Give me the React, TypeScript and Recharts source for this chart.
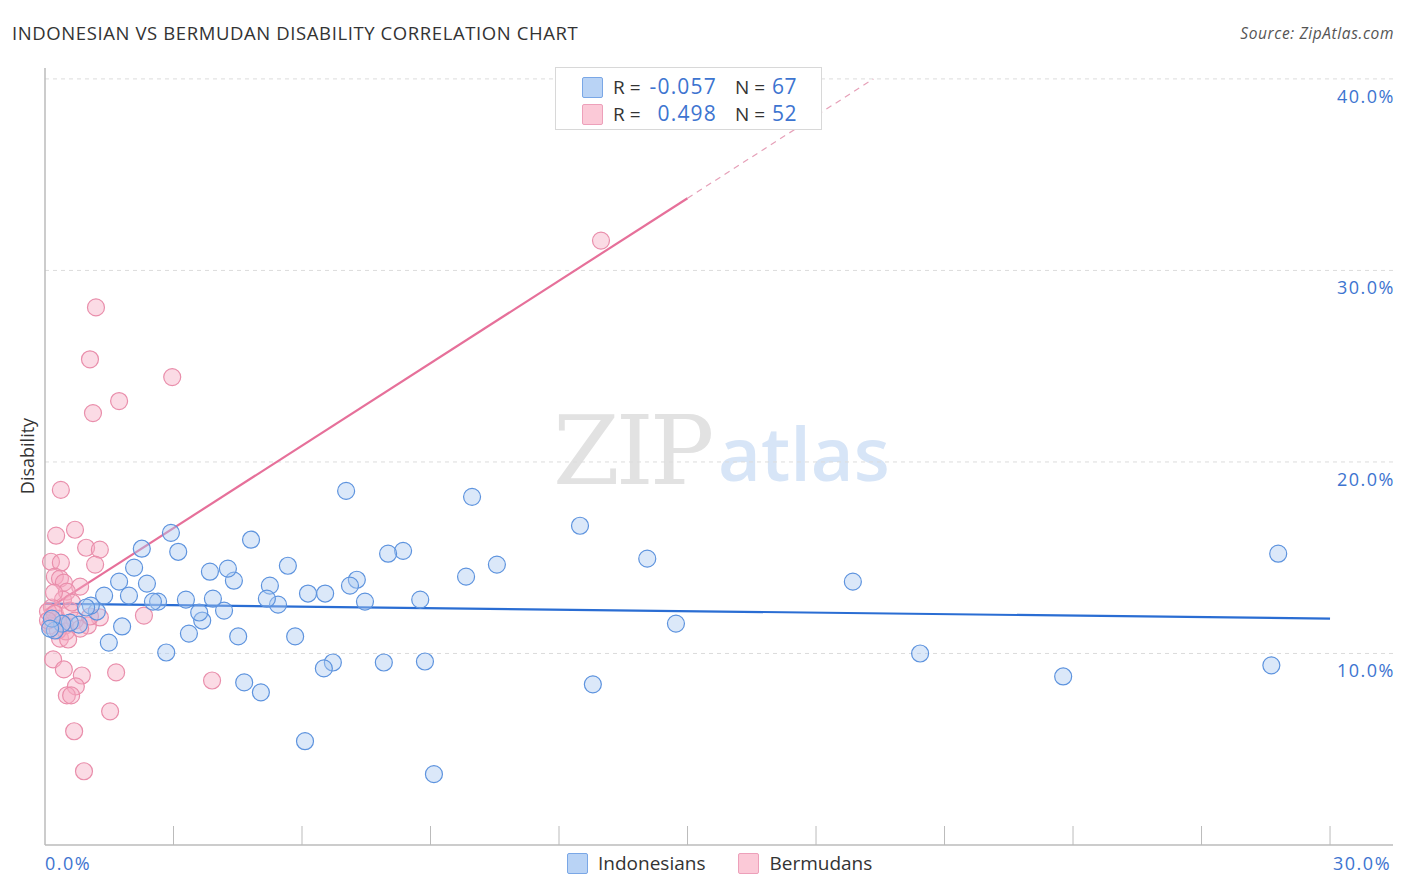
import React from "react"
import {
  CartesianGrid,
  ReferenceLine,
  Scatter,
  ScatterChart,
  XAxis,
  YAxis,
} from "recharts"

// Indonesians: [x %, disability %]
const indonesians: [number, number][] = [
  [28.79, 15.21], [28.63, 9.38], [23.77, 8.8], [20.43, 10.0], [18.86, 13.75],
  [14.73, 11.56], [14.06, 14.95], [12.79, 8.39], [12.49, 16.67], [10.55, 14.64],
  [9.97, 18.18], [9.83, 14.01], [9.08, 3.7], [8.87, 9.58], [8.76, 12.81],
  [8.36, 15.36], [8.01, 15.21], [7.91, 9.53], [7.47, 12.71], [7.28, 13.85],
  [7.12, 13.54], [7.03, 18.49], [6.72, 9.53], [6.51, 9.22], [6.54, 13.13],
  [6.14, 13.13], [6.07, 5.42], [5.84, 10.89], [5.67, 14.58], [5.44, 12.55],
  [5.25, 13.54], [5.18, 12.86], [5.04, 7.97], [4.81, 15.94], [4.65, 8.49],
  [4.51, 10.89], [4.41, 13.8], [4.27, 14.43], [4.18, 12.24], [3.92, 12.86],
  [3.85, 14.27], [3.67, 11.72], [3.6, 12.14], [3.36, 11.04], [3.29, 12.81],
  [3.11, 15.31], [2.94, 16.3], [2.83, 10.05], [2.64, 12.71], [2.52, 12.71],
  [2.38, 13.65], [2.26, 15.47], [2.08, 14.48], [1.96, 13.02], [1.73, 13.75],
  [1.8, 11.41], [1.49, 10.57], [1.38, 13.02], [1.21, 12.19], [1.07, 12.5],
  [0.96, 12.4], [0.79, 11.51], [0.58, 11.61], [0.4, 11.56], [0.23, 11.2],
  [0.16, 11.82], [0.12, 11.3],
]

// Bermudans: [x %, disability %]
const bermudans: [number, number][] = [
  [12.98, 31.56], [1.19, 28.07], [1.05, 25.36], [2.97, 24.43], [1.73, 23.18],
  [1.12, 22.55], [0.37, 18.54], [0.26, 16.15], [0.7, 16.46], [0.96, 15.52],
  [1.28, 15.42], [0.14, 14.79], [0.37, 14.74], [1.17, 14.64], [0.23, 14.01],
  [0.35, 13.91], [0.44, 13.7], [0.82, 13.49], [0.51, 13.23], [0.42, 12.81],
  [0.16, 12.4], [2.31, 11.98], [0.07, 12.19], [0.28, 11.82], [1.28, 11.88],
  [1.0, 11.46], [0.47, 11.46], [0.12, 11.46], [0.35, 10.78], [0.49, 11.15],
  [0.19, 9.69], [0.44, 9.17], [0.86, 8.85], [1.66, 9.01], [0.72, 8.28],
  [3.9, 8.59], [0.51, 7.81], [0.61, 7.81], [1.52, 6.98], [0.68, 5.94],
  [0.91, 3.85], [0.23, 12.08], [0.58, 12.24], [0.7, 11.72], [0.3, 11.2],
  [0.82, 11.3], [0.07, 11.72], [0.4, 11.56], [0.63, 12.66], [0.21, 13.18],
  [1.05, 11.93], [0.54, 10.73],
]

const blueTrend = [{ x: 0, y: 12.6 }, { x: 30, y: 11.82 }]
const pinkTrend = [{ x: 0, y: 12.24 }, { x: 15, y: 33.77 }]
const pinkTrendExt = [{ x: 15, y: 33.77 }, { x: 19.34, y: 40 }]

const xTicks = [0, 3, 6, 9, 12, 15, 18, 21, 24, 27, 30]
const yTicks = [10, 20, 30, 40]

const FONT = "'Open Sans', 'Noto Sans', sans-serif"
const BLUE_TEXT = "#3d74d0"

const toPoints = (arr: [number, number][]) => arr.map(([x, y]) => ({ x, y }))

const dot = (fill: string, stroke: string) => (props: any) => (
  <circle
    cx={props.cx}
    cy={props.cy}
    r={8.5}
    fill={fill}
    fillOpacity={0.42}
    stroke={stroke}
    strokeWidth={1.2}
  />
)

const XTick = (props: any) => {
  const { x, y, payload, index } = props
  const label = index === 0 ? "0.0%" : payload.value === 30 ? "30.0%" : null
  return (
    <g>
      {index > 0 && (
        <line x1={x} x2={x} y1={y} y2={y - 19} stroke="#bbb" strokeWidth={1} />
      )}
      {label && (
        <text
          x={index === 0 ? x : x + 3}
          y={y + 25}
          fill={BLUE_TEXT}
          fontSize={18}
          letterSpacing={1.5}
          fontFamily={FONT}
        >
          {label}
        </text>
      )}
    </g>
  )
}

const YTick = (props: any) => {
  const { x, y, payload } = props
  return (
    <text
      x={x + 2}
      y={y + 24}
      textAnchor="end"
      fill={BLUE_TEXT}
      fontSize={18}
      letterSpacing={1.5}
      fontFamily={FONT}
    >
      {`${Number(payload.value).toFixed(1)}%`}
    </text>
  )
}

const Swatch = ({ fill, stroke }: { fill: string; stroke: string }) => (
  <span
    style={{
      display: "inline-block",
      width: 19,
      height: 19,
      background: fill,
      border: `1.5px solid ${stroke}`,
      borderRadius: 2,
    }}
  />
)

const statRows = [
  { r: "-0.057", n: "67", fill: "#b9d3f5", stroke: "#7aa7e6" },
  { r: "0.498", n: "52", fill: "#fbc9d7", stroke: "#eda0ba" },
]

export default function App() {
  return (
    <div
      style={{
        position: "absolute",
        left: 0,
        top: 0,
        width: 1406,
        height: 892,
        fontFamily: FONT,
        background: "#fff",
      }}
    >
      <div
        style={{
          position: "absolute",
          left: 12,
          top: 20,
          fontSize: 18.5,
          letterSpacing: 0.6,
          color: "#333",
        }}
      >
        INDONESIAN VS BERMUDAN DISABILITY CORRELATION CHART
      </div>
      <div
        style={{
          position: "absolute",
          right: 12,
          top: 22,
          fontSize: 15.5,
          letterSpacing: 0.6,
          color: "#555",
          fontStyle: "italic",
        }}
      >
        Source: ZipAtlas.com
      </div>

      {/* watermark */}
      <div
        style={{
          position: "absolute",
          left: 553,
          top: 395,
          fontFamily: "'DejaVu Serif', 'Liberation Serif', serif",
          fontSize: 96,
          color: "#e2e2e2",
          letterSpacing: -4,
        }}
      >
        ZIP
      </div>
      <div
        style={{
          position: "absolute",
          left: 718,
          top: 402,
          fontSize: 74,
          color: "#d7e5f7",
          fontWeight: 600,
        }}
      >
        atlas
      </div>

      <div style={{ position: "absolute", left: 0, top: 0 }}>
        <ScatterChart
          width={1406}
          height={892}
          margin={{ top: 68, right: 12, left: 45, bottom: 27 }}
        >
          <CartesianGrid
            vertical={false}
            horizontalValues={yTicks}
            stroke="#dcdcdc"
            strokeDasharray="4 4"
          />
          <XAxis
            type="number"
            dataKey="x"
            domain={[0, 31.47]}
            ticks={xTicks}
            height={20}
            tickSize={0}
            tickMargin={0}
            tickLine={false}
            axisLine={{ stroke: "#bbb", strokeWidth: 1.5 }}
            tick={<XTick />}
            interval={0}
          />
          <YAxis
            type="number"
            dataKey="y"
            orientation="right"
            domain={[0, 40.57]}
            ticks={yTicks}
            width={1}
            tickSize={0}
            tickMargin={0}
            axisLine={false}
            tickLine={false}
            tick={<YTick />}
            interval={0}
          />
          <ReferenceLine x={0} stroke="#bbb" strokeWidth={1.5} />
          <Scatter
            data={toPoints(bermudans)}
            shape={dot("#f5a9c0", "#e98eab")}
            isAnimationActive={false}
          />
          <Scatter
            data={toPoints(indonesians)}
            shape={dot("#a9c8f1", "#5d93de")}
            isAnimationActive={false}
          />
          <ReferenceLine
            segment={blueTrend}
            stroke="#2a6dd3"
            strokeWidth={2.2}
          />
          <ReferenceLine
            segment={pinkTrend}
            stroke="#e6709a"
            strokeWidth={2.2}
          />
          <ReferenceLine
            segment={pinkTrendExt}
            stroke="#e6a0b8"
            strokeWidth={1.2}
            strokeDasharray="6 5"
          />
        </ScatterChart>
      </div>

      {/* correlation legend */}
      <div
        style={{
          position: "absolute",
          left: 555,
          top: 67,
          width: 265,
          height: 61,
          border: "1px solid #d8d8d8",
          background: "#fff",
          fontSize: 19,
          color: "#333",
        }}
      >
        {statRows.map((row, i) => (
          <div
            key={i}
            style={{ position: "absolute", left: 0, top: 6 + i * 27, height: 26, width: 265 }}
          >
            <span style={{ position: "absolute", left: 26, top: 3 }}>
              <Swatch fill={row.fill} stroke={row.stroke} />
            </span>
            <span style={{ position: "absolute", left: 57, top: 0 }}>R =</span>
            <span
              style={{
                position: "absolute",
                right: 104,
                top: -2,
                color: BLUE_TEXT,
                fontSize: 21,
                letterSpacing: 1.2,
              }}
            >
              {row.r}
            </span>
            <span style={{ position: "absolute", left: 179, top: 0 }}>N =</span>
            <span
              style={{
                position: "absolute",
                left: 216,
                top: -2,
                color: BLUE_TEXT,
                fontSize: 21,
                letterSpacing: 0.5,
              }}
            >
              {row.n}
            </span>
          </div>
        ))}
      </div>

      {/* series legend */}
      <div
        style={{
          position: "absolute",
          left: 567,
          top: 850,
          display: "flex",
          alignItems: "center",
          fontSize: 19,
          color: "#333",
        }}
      >
        <Swatch fill="#b9d3f5" stroke="#7aa7e6" />
        <span style={{ marginLeft: 10 }}>Indonesians</span>
        <span style={{ marginLeft: 33 }} />
        <Swatch fill="#fbc9d7" stroke="#eda0ba" />
        <span style={{ marginLeft: 10 }}>Bermudans</span>
      </div>

      {/* y-axis title */}
      <div
        style={{
          position: "absolute",
          left: 27,
          top: 456,
          transform: "translate(-50%, -50%) rotate(-90deg)",
          fontSize: 18,
          color: "#333",
          whiteSpace: "nowrap",
        }}
      >
        Disability
      </div>
    </div>
  )
}
